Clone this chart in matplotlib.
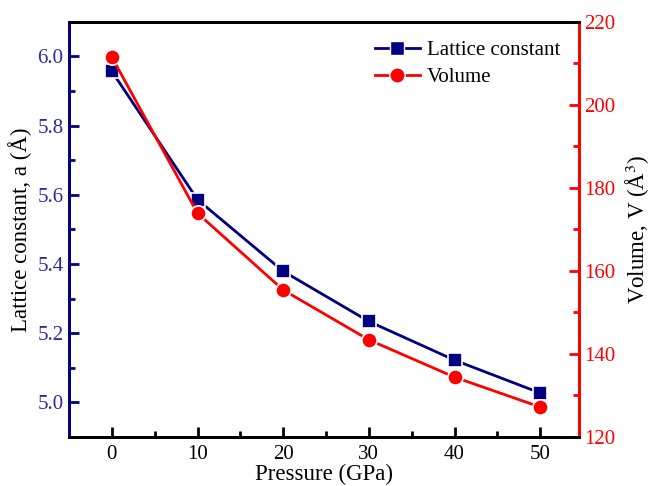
import numpy as np
import matplotlib.pyplot as plt
from matplotlib.lines import Line2D

plt.rcParams['font.family'] = ['Liberation Serif', 'DejaVu Serif']
plt.rcParams['mathtext.fontset'] = 'stix'

# data
pressure = [0, 10, 20, 30, 40, 50]
lattice = [5.957, 5.586, 5.379, 5.234, 5.122, 5.027]
volume = [211.5, 173.9, 155.4, 143.4, 134.4, 127.2]

navy = '#000080'
red = '#ff0000'

fig = plt.figure(figsize=(6.51, 4.86), dpi=100)
ax = fig.add_axes([0.106, 0.101, 0.783, 0.854])
ax2 = ax.twinx()

ax.plot(pressure, lattice, '-s', color=navy, lw=2, ms=10,
        mec='white', mew=1.2, label='Lattice constant')
ax2.plot(pressure, volume, '-o', color=red, lw=2, ms=11,
         mec='white', mew=1.2, label='Volume')

ax.set_xlim(-5, 54.5)
ax.set_ylim(4.9, 6.1)
ax2.set_ylim(120, 220)
ax.set_xticks(np.arange(0, 51, 10))
ax.set_xticks(np.arange(5, 51, 10), minor=True)
ax.set_yticks(np.arange(5.0, 6.01, 0.2))
ax.set_yticks(np.arange(4.9, 6.1, 0.2), minor=True)
ax2.set_yticks(np.arange(120, 221, 20))
ax2.set_yticks(np.arange(130, 220, 20), minor=True)

for s in ax.spines.values():
    s.set_linewidth(2)
for s in ax2.spines.values():
    s.set_linewidth(2)
ax2.spines['left'].set_color(navy)
ax2.spines['right'].set_color(red)
ax.spines['left'].set_color(navy)
ax.spines['right'].set_color(red)

ax.tick_params(axis='x', direction='in', length=7, width=2, labelsize=15, pad=6,
               colors='black')
ax.tick_params(axis='x', which='minor', direction='in', length=4, width=2)
ax.tick_params(axis='y', direction='in', length=7, width=2, labelsize=15,
               colors=navy, pad=4)
ax.tick_params(axis='y', which='minor', direction='in', length=4, width=2,
               colors=navy)
ax2.tick_params(axis='y', direction='in', length=7, width=2, labelsize=15,
                colors=red, pad=4)
ax2.tick_params(axis='y', which='minor', direction='in', length=4, width=2,
                colors=red)
ax.tick_params(axis='y', labelcolor='#2a2a9a')

ax.set_xlabel('Pressure (GPa)', fontsize=16.5, labelpad=0)
ax.set_ylabel('Lattice constant, a (Å)', fontsize=16.5, labelpad=4)
ax2.set_ylabel('Volume, V (Å$^3$)', fontsize=16.5, labelpad=6)
ax2.set_yticklabels([str(v) for v in range(120, 221, 20)])

handles = [Line2D([], [], color=navy, lw=2, marker='s', ms=10, mec='white', mew=1.0),
           Line2D([], [], color=red, lw=2, marker='o', ms=11, mec='white', mew=1.0)]
ax.legend(handles, ['Lattice constant', 'Volume'], loc='upper right',
          bbox_to_anchor=(1.0, 1.0), frameon=False, fontsize=15,
          handlelength=2.2, handletextpad=0.3, labelspacing=0.35)

fig.savefig('out.png', dpi=100)
